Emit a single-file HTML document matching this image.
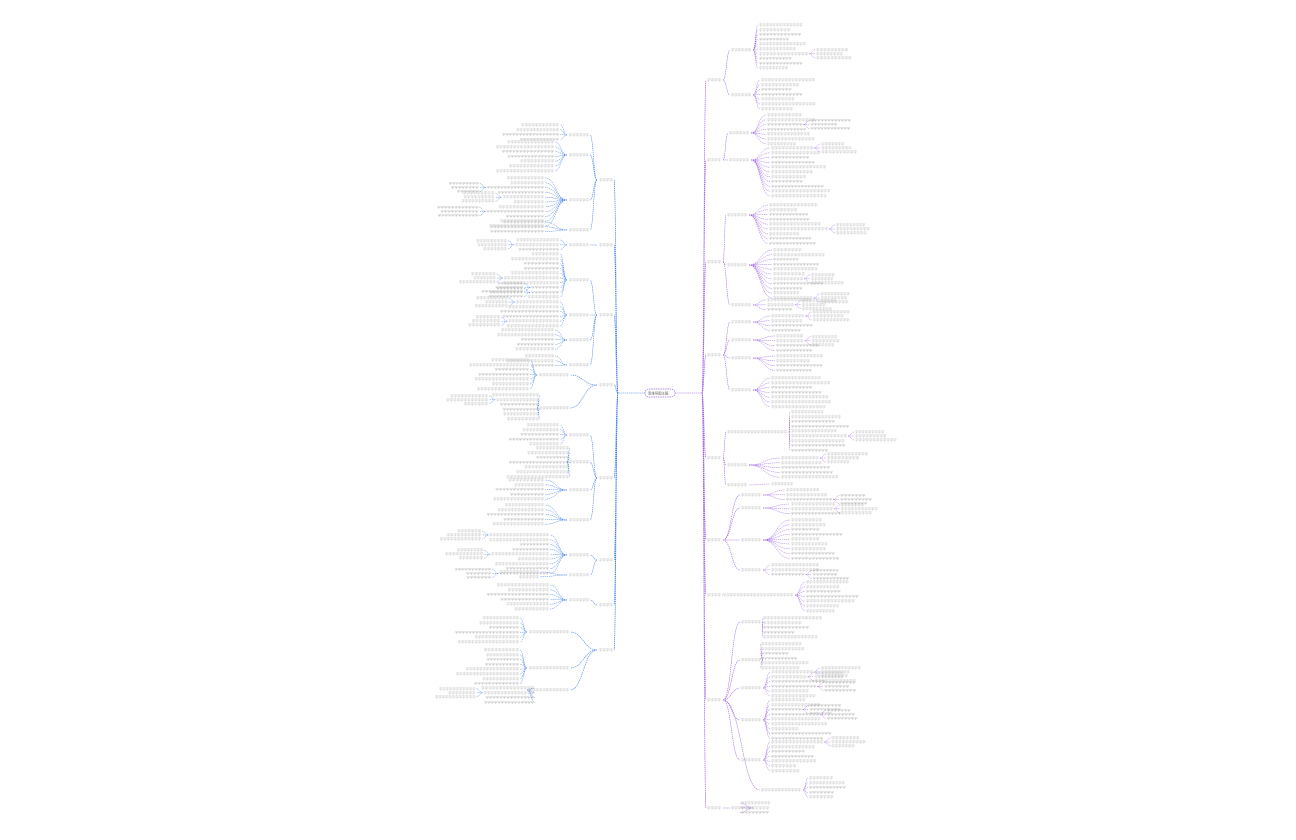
<!DOCTYPE html>
<html><head><meta charset="utf-8">
<style>
html,body{margin:0;padding:0;background:#fff;width:1296px;height:840px;overflow:hidden}
svg{display:block}
text{font-family:"Liberation Sans","Noto Sans CJK SC",sans-serif;font-size:3px;fill:#b2b2b2}
</style></head>
<body>
<svg id="s" width="1296" height="840" viewBox="0 0 1296 840" xmlns="http://www.w3.org/2000/svg">
<rect x="645" y="389" width="30" height="8" rx="4" fill="#fff" stroke="#9b6ae8" stroke-width="0.7" stroke-dasharray="1.5,0.8"/>
<text x="648" y="394.3" style="font-size:3.4px;fill:#666">思维导图主题</text>
</svg>
<script>
var s=document.getElementById('s'),NS='http://www.w3.org/2000/svg';
var seed=7;function r(){seed=(seed*9301+49297)%233280;return seed/233280;}
function el(t,a){var e=document.createElementNS(NS,t);for(var k in a)e.setAttribute(k,a[k]);s.appendChild(e);return e;}
function curve(x1,y1,x2,y2,c,w){var mx=(x1+x2)/2;el('path',{d:'M'+x1+' '+y1+' C'+mx+' '+y1+' '+mx+' '+y2+' '+x2+' '+y2,fill:'none',stroke:c,'stroke-width':w||0.45,'stroke-dasharray':'1.4,0.7'});}
function txt(x,y,w,anchorRight){var n=Math.max(2,Math.round(w/3.4));var str='';for(var i=0;i<n;i++)str+='字';var t=el('text',{x:anchorRight?x-w:x,y:y+1,textLength:w,lengthAdjust:'spacingAndGlyphs'});t.textContent=str;}
function side(dir,cx,cy,tx,c,mains){
 curve(cx,cy,tx,cy,c,0.6);
 mains.forEach(function(m){
  var mx=tx+dir*4, my=m[0];
  curve(tx,cy,mx,my,c,0.7);
  txt(mx+dir*1,my,14,dir<0);
  var mend=mx+dir*17;
  m[1].forEach(function(sb){
   var sx=sb[0],sy=sb[1],lx=sb[2],y1=sb[3],y2=sb[4],lw=sb[5];
   curve(mend,my,sx,sy,c,0.55);
   var sw=sb[6]||20;
   txt(sx+dir*1,sy,sw,dir<0);
   var send=sx+dir*(sw+3);
   for(var y=y1;y<=y2;y+=4.8){
     curve(send,sy,lx,y,c);
     var w=lw*(0.5+r()*0.6);
     txt(lx+dir*1,y,w,dir<0);
     if(r()<0.1){var ex=lx+dir*(w+4);
       for(var k=-1;k<=1;k++){curve(lx+dir*(w+2),y,ex+dir*4,y+k*4,c);txt(ex+dir*5,y+k*4,22+r()*20,dir<0);} }
   }
  });
 });
}
var P='#9b5de5',B='#3b7ae8';
side(1,675,393,702,P,[
 [80,[[730,50,758,25,72,55],[730,95,760,80,112,50]]],
 [160,[[728,133,766,115,145,50],[728,160,770,148,200,55]]],
 [262,[[726,215,768,205,245,55],[726,265,772,250,300,50],[730,305,766,300,312,45]]],
 [355,[[730,322,770,316,332,45],[730,340,775,336,352,50],[730,358,775,356,372,45],[730,390,770,378,410,55]]],
 [458,[[726,432,790,412,455,60,60],[726,465,780,458,478,55],[726,485,770,484,487,30]]],
 [540,[[740,495,785,490,502,55],[740,508,790,504,518,60],[740,540,790,520,560,55],[740,570,770,565,575,45]]],
 [595,[[722,595,805,582,612,50,70]]],
 [700,[[740,622,762,618,640,55],[740,660,760,644,668,50],[740,688,770,672,700,55],[740,720,770,700,740,55],[740,760,770,742,775,50],[760,790,808,778,798,45,40]]],
 [808,[[730,808,740,803,813,50]]]
]);
side(-1,645,393,618,B,[
 [180,[[590,135,560,125,140,55],[590,155,555,142,172,60],[590,200,545,178,228,60],[590,230,545,222,236,55]]],
 [245,[[590,245,560,240,250,50]]],
 [315,[[590,280,560,254,300,55],[590,315,560,302,330,55],[590,340,555,330,352,55],[590,365,555,356,370,45]]],
 [385,[[570,375,530,360,390,55,30],[570,408,540,395,420,50,30]]],
 [478,[[590,435,560,425,445,55],[590,462,570,448,478,60],[590,490,545,480,500,55],[590,520,545,505,525,55]]],
 [560,[[590,555,550,535,575,55],[590,575,540,572,580,40]]],
 [605,[[590,600,550,585,612,60]]],
 [650,[[570,632,520,618,645,60,40],[570,668,520,650,685,60,40],[570,690,535,688,705,55,40]]]
]);
</script>
</body></html>
